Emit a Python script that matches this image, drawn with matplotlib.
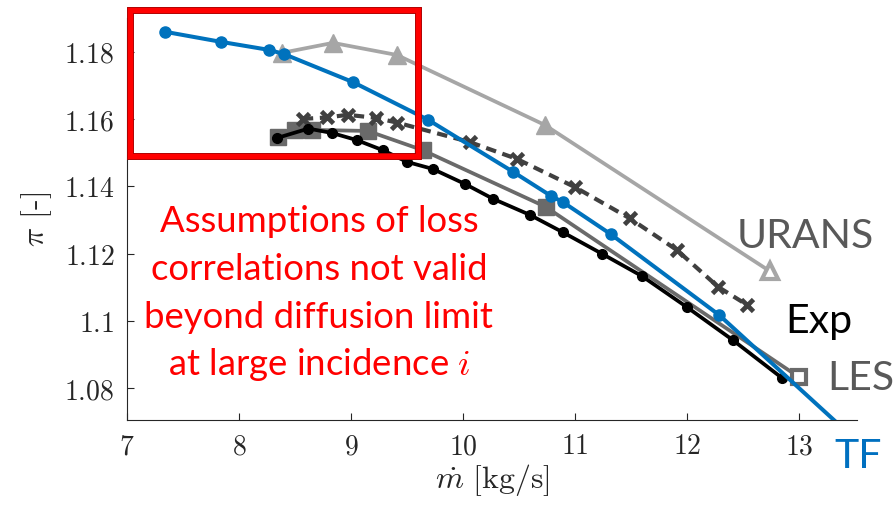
import matplotlib
matplotlib.use("Agg")
import matplotlib.pyplot as plt
from matplotlib.patches import Rectangle
from matplotlib.ticker import FuncFormatter, FixedLocator

plt.rcParams['mathtext.fontset'] = 'cm'
plt.rcParams['axes.unicode_minus'] = False

# ---- data ----
tf_x = [7.34, 7.84, 8.27, 8.40, 9.02, 9.69, 10.45, 10.79, 10.89, 11.32, 12.29, 13.33]
tf_y = [1.1860, 1.1830, 1.1806, 1.1794, 1.1710, 1.1598, 1.1443, 1.1371, 1.1354, 1.1258, 1.1017, 1.0700]

urans_x = [8.38, 8.84, 9.41, 10.73, 12.74]
urans_y = [1.1797, 1.1827, 1.1791, 1.1583, 1.1148]

les_x = [8.35, 8.50, 8.65, 9.15, 9.64, 10.74, 13.00]
les_y = [1.1547, 1.1568, 1.1568, 1.1565, 1.1508, 1.1339, 1.0833]

dash_x = [8.57, 8.79, 8.97, 9.22, 9.41, 10.06, 10.48, 11.00, 11.49, 11.91, 12.28, 12.54]
dash_y = [1.1601, 1.1605, 1.1613, 1.1604, 1.1590, 1.1532, 1.1482, 1.1398, 1.1305, 1.1211, 1.1101, 1.1047]

exp_x = [8.34, 8.62, 8.83, 9.05, 9.29, 9.50, 9.73, 10.02, 10.27, 10.60, 10.89, 11.24, 11.60, 12.00, 12.41, 12.85]
exp_y = [1.1544, 1.1572, 1.1559, 1.1538, 1.1507, 1.1473, 1.1452, 1.1407, 1.1363, 1.1315, 1.1264, 1.1200, 1.1133, 1.1041, 1.0943, 1.0830]

x_ticks = [7, 8, 9, 10, 11, 12, 13]
y_ticks = [1.08, 1.10, 1.12, 1.14, 1.16, 1.18]

note_lines = ["Assumptions of loss", "correlations not valid",
              "beyond diffusion limit", "at large incidence $i$"]

# ---- figure ----
fig = plt.figure(figsize=(8.93, 5.13), dpi=100)
ax = fig.add_axes([127/893, 1-420/513, (857-127)/893, (420-18)/513])

c_urans = '#a6a6a6'
c_les = '#6a6a6a'
c_dash = '#404040'
c_tf = '#0072BD'

ax.plot(urans_x, urans_y, '-', color=c_urans, lw=2.7, marker='^', ms=13,
        mfc=c_urans, mec=c_urans, markevery=list(range(len(urans_x)-1)), zorder=2)
ax.plot(urans_x[-1:], urans_y[-1:], linestyle='none', marker='^', ms=12,
        mfc='white', mec=c_urans, mew=3, zorder=2)

ax.plot(les_x, les_y, '-', color=c_les, lw=2.7, marker='s', ms=11,
        mfc=c_les, mec=c_les, markevery=list(range(len(les_x)-1)), zorder=3)
ax.plot(les_x[-1:], les_y[-1:], linestyle='none', marker='s', ms=10,
        mfc='white', mec=c_les, mew=3, zorder=3)

ax.plot(dash_x, dash_y, color=c_dash, lw=3.0, linestyle=(0, (2.5, 1.6)),
        marker='x', ms=8, mew=3.4, zorder=4)

ax.plot(exp_x, exp_y, '-', color='black', lw=2.7, marker='o', ms=7, zorder=5)

ax.plot(tf_x, tf_y, '-', color=c_tf, lw=2.9, marker='o', ms=8,
        markevery=list(range(len(tf_x)-1)), zorder=6)

ax.set_xlim(7, 13.52)
ax.set_ylim(1.0705, 1.1901)

ax.xaxis.set_major_locator(FixedLocator(x_ticks))
ax.yaxis.set_major_locator(FixedLocator(y_ticks))
ax.xaxis.set_major_formatter(FuncFormatter(lambda v, p: r'$%g$' % v))
ax.yaxis.set_major_formatter(FuncFormatter(lambda v, p: r'$%g$' % round(v, 2)))
ax.tick_params(direction='in', length=5, width=0.8, labelsize=20, colors='#262626')
ax.tick_params(axis='x', pad=9)
ax.tick_params(axis='y', pad=9)

for s in ['top', 'right']:
    ax.spines[s].set_visible(False)
for s in ['left', 'bottom']:
    ax.spines[s].set_color('#262626')
    ax.spines[s].set_linewidth(0.8)

ax.set_xlabel(r'$\dot{m}\ [\mathrm{kg/s}]$', fontsize=23, color='#262626', labelpad=1)
ax.set_ylabel(r'$\pi$ [-]', fontsize=23, color='#262626', labelpad=7,
              family=['cmr10', 'DejaVu Serif'])

# red box
rx0, rx1 = 7.027, 9.598
ry0, ry1 = 1.149, 1.1925
ax.add_patch(Rectangle((rx0, ry0), rx1-rx0, ry1-ry0, fill=False, edgecolor='#b00000',
                       lw=5.0, clip_on=False, zorder=10, joinstyle='miter'))
ax.add_patch(Rectangle((rx0, ry0), rx1-rx0, ry1-ry0, fill=False, edgecolor='#ff0000',
                       lw=3.6, clip_on=False, zorder=11, joinstyle='miter'))

note_y = [1.1264, 1.1121, 1.0979, 1.0839]
for t, yy in zip(note_lines, note_y):
    ax.text(8.714, yy, t, color='#ff0000', fontsize=26.3, family='Lato',
            ha='center', va='baseline', zorder=12)

ax.text(12.446, 1.1217, 'URANS', color='#595959', fontsize=29.5, family='Lato',
        ha='left', va='baseline', clip_on=False)
ax.text(12.875, 1.0964, 'Exp', color='black', fontsize=29.5, family='Lato',
        ha='left', va='baseline', clip_on=False)
ax.text(13.25, 1.0794, 'LES', color='#595959', fontsize=29.5, family='Lato',
        ha='left', va='baseline', clip_on=False)
ax.text(13.32, 1.0562, 'TF', color='#0070C0', fontsize=29.5, family='Lato',
        ha='left', va='baseline', clip_on=False)

fig.savefig('out.png', dpi=100)
